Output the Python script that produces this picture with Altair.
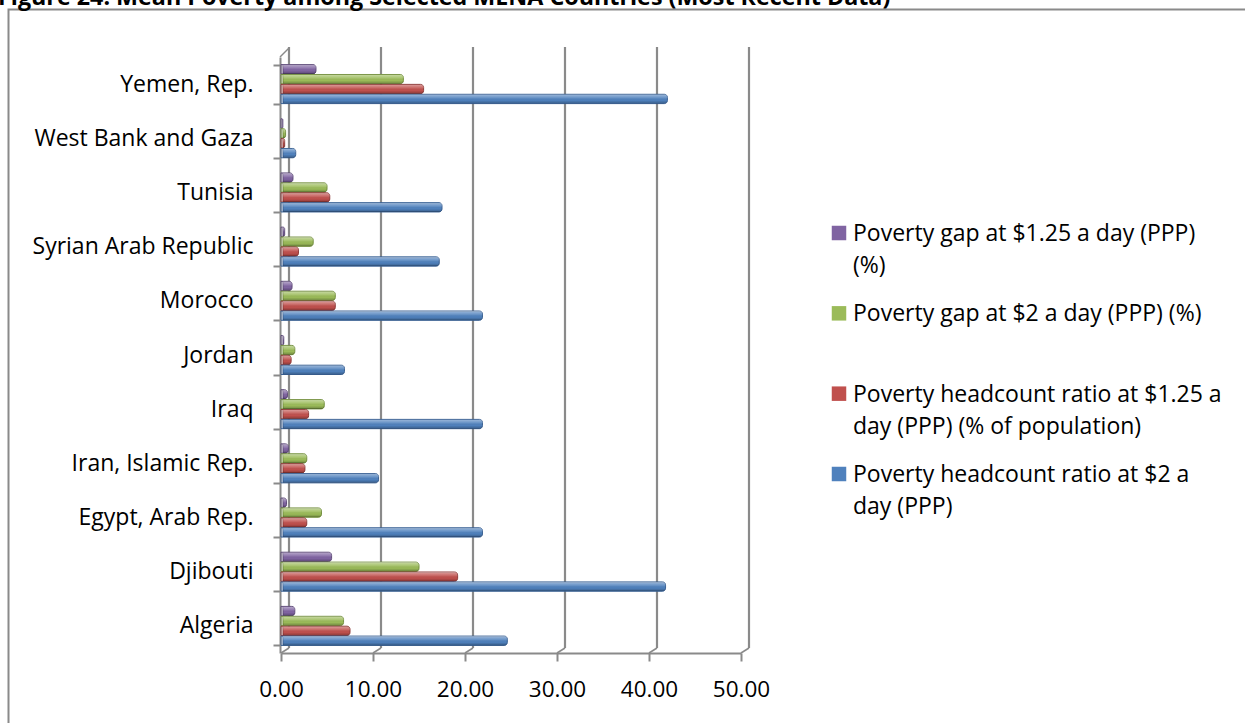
import altair as alt
import pandas as pd

# Countries listed top to bottom as they appear on the category axis
countries = [
    "Yemen, Rep.", "West Bank and Gaza", "Tunisia", "Syrian Arab Republic",
    "Morocco", "Jordan", "Iraq", "Iran, Islamic Rep.", "Egypt, Arab Rep.",
    "Djibouti", "Algeria",
]

series = [
    "Poverty gap at $1.25 a day (PPP) (%)",
    "Poverty gap at $2 a day (PPP) (%)",
    "Poverty headcount ratio at $1.25 a day (PPP) (% of population)",
    "Poverty headcount ratio at $2 a day (PPP)",
]
legend_text = [
    "Poverty gap at $1.25 a day (PPP)\n(%)",
    "Poverty gap at $2 a day (PPP) (%)",
    "Poverty headcount ratio at $1.25 a\nday (PPP) (% of population)",
    "Poverty headcount ratio at $2 a\nday (PPP)",
]
fill_colors = ["#8064A2", "#9BBB59", "#C0504D", "#4F81BD"]
edge_colors = ["#5E4A79", "#74903F", "#8F3A38", "#3A6194"]

# Values per country, same order as `countries`
gap_125 = [3.8, 0.2, 1.3, 0.4, 1.2, 0.3, 0.7, 0.8, 0.6, 5.5, 1.5]
gap_2 = [13.3, 0.5, 5.0, 3.5, 5.9, 1.5, 4.7, 2.8, 4.4, 15.0, 6.8]
headcount_125 = [15.5, 0.4, 5.3, 1.9, 5.9, 1.1, 3.0, 2.6, 2.8, 19.2, 7.5]
headcount_2 = [42.0, 1.6, 17.5, 17.2, 21.9, 6.9, 21.9, 10.6, 21.9, 41.8, 24.6]

x_ticks = [0, 10, 20, 30, 40, 50]

title_text = ["Figure 24: Mean Poverty among Selected MENA Countries (Most Recent Data)"]

FONT = "Open Sans"
FRAME = "#8A8A8A"

rows = []
for name, vals in zip(series, [gap_125, gap_2, headcount_125, headcount_2]):
    for c, v in zip(countries, vals):
        rows.append({"country": c, "series": name, "value": v})
bars_df = pd.DataFrame(rows)
ticks_df = pd.DataFrame({"value": x_ticks})
corner_df = pd.DataFrame({"value": [0]})
legend_df = pd.DataFrame({"series": series, "label": legend_text})
frame_df = pd.DataFrame({"frame": [0]})
title_df = pd.DataFrame({"title": title_text})

x_scale = alt.Scale(domain=[0, 50], nice=False, zero=True)
color = alt.Color("series:N", scale=alt.Scale(domain=series, range=fill_colors), legend=None)
y_scale = alt.Scale(domain=countries, paddingInner=0.28, paddingOuter=0.14)
y_offset = alt.YOffset("series:N", sort=series, scale=alt.Scale(domain=series, paddingInner=0.06))

# Outer chart-area border
border = alt.Chart(frame_df).mark_rect(
    filled=False, stroke=FRAME, strokeWidth=2
).encode(
    x=alt.value(-272.5), x2=alt.value(1100), y=alt.value(-47.5), y2=alt.value(800)
)

# Figure caption along the top edge
caption = alt.Chart(title_df).mark_text(
    align="left", baseline="alphabetic", font=FONT, fontSize=23.3,
    fontWeight="bold", color="#000000",
).encode(x=alt.value(-283), y=alt.value(-52), text="title:N")

# Back-wall gridlines, shifted up and right for the box depth
gridlines = alt.Chart(ticks_df).mark_rule(
    color=FRAME, strokeWidth=2.2, xOffset=8
).encode(
    x=alt.X("value:Q", scale=x_scale),
    y=alt.value(-10),
    y2=alt.value(591),
)

# Floor edges joining the back wall to the front axis
floor = alt.Chart(ticks_df).mark_rule(
    color=FRAME, strokeWidth=1.5, x2Offset=8
).encode(
    x=alt.X("value:Q", scale=x_scale),
    x2=alt.X2("value"),
    y=alt.value(596),
    y2=alt.value(591),
)

corner = alt.Chart(corner_df).mark_rule(
    color=FRAME, strokeWidth=1.5, xOffset=-1, x2Offset=8
).encode(
    x=alt.X("value:Q", scale=x_scale),
    x2=alt.X2("value"),
    y=alt.value(0),
    y2=alt.value(-9),
)

bars = alt.Chart(bars_df).mark_bar(
    strokeWidth=1, cornerRadiusEnd=3, xOffset=2, x2Offset=2
).encode(
    x=alt.X(
        "value:Q",
        scale=x_scale,
        axis=alt.Axis(
            title=None, values=x_ticks, format=".2f", grid=False, labelFlush=False,
            labelFont=FONT, labelFontSize=22.5, labelColor="#000000",
            labelPadding=17, tickSize=8, tickWidth=2, tickColor=FRAME,
            domainColor=FRAME, domainWidth=2,
        ),
    ),
    y=alt.Y(
        "country:N",
        sort=countries,
        scale=y_scale,
        axis=alt.Axis(
            title=None, tickBand="extent", offset=1, labelLimit=400,
            labelFont=FONT, labelFontSize=23, labelColor="#000000",
            labelPadding=20, tickSize=7, tickWidth=2, tickColor=FRAME,
            domainColor=FRAME, domainWidth=2,
        ),
    ),
    yOffset=y_offset,
    color=color,
    stroke=alt.Stroke("series:N", scale=alt.Scale(domain=series, range=edge_colors), legend=None),
)

# Cylinder shading laid over each bar
shine = alt.Chart(bars_df).mark_bar(
    cornerRadiusEnd=3, xOffset=2, x2Offset=2, strokeWidth=0,
    fill=alt.Gradient(
        gradient="linear", x1=0, x2=0, y1=0, y2=1,
        stops=[
            alt.GradientStop(offset=0, color="rgba(255,255,255,0.45)"),
            alt.GradientStop(offset=0.4, color="rgba(255,255,255,0.12)"),
            alt.GradientStop(offset=0.65, color="rgba(0,0,0,0)"),
            alt.GradientStop(offset=1, color="rgba(0,0,0,0.28)"),
        ],
    ),
).encode(
    x=alt.X("value:Q", scale=x_scale),
    y=alt.Y("country:N", sort=countries, scale=y_scale, axis=None),
    yOffset=y_offset,
)

# Legend drawn beside the plot
legend_y = alt.Y(
    "series:N",
    sort=series,
    scale=alt.Scale(type="point", domain=series, range=[176, 417], padding=0),
    axis=None,
)
legend_swatches = alt.Chart(legend_df).mark_square(size=210, opacity=1, filled=True).encode(
    x=alt.value(558), y=legend_y, color=color
)
legend_labels = alt.Chart(legend_df).mark_text(
    align="left", baseline="top", dy=-10, lineBreak="\n",
    font=FONT, fontSize=23, lineHeight=32, color="#000000",
).encode(x=alt.value(572), y=legend_y, text="label:N")

chart = alt.layer(
    border, caption, gridlines, floor, corner, bars, shine, legend_swatches, legend_labels
).resolve_scale(
    y="independent"
).properties(
    width=460,
    height=596,
    padding={"left": 281, "top": 57, "right": 504, "bottom": 70},
    autosize=alt.AutoSizeParams(type="none"),
    background="#FFFFFF",
).configure_view(stroke=None)

chart.save("out.html", embed_options={"renderer": "svg", "actions": False})
